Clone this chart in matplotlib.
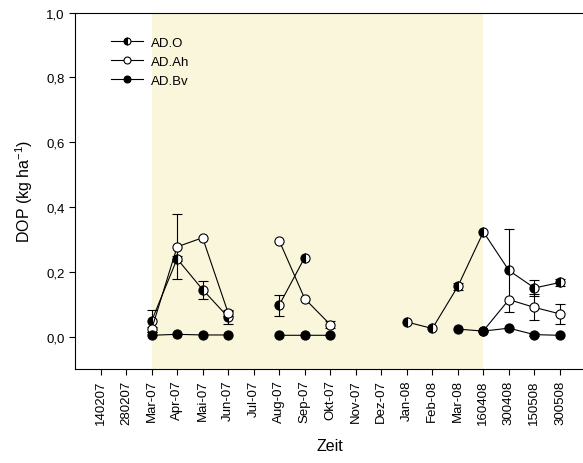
import numpy as np
import matplotlib
matplotlib.use("Agg")
import matplotlib.pyplot as plt
from matplotlib.lines import Line2D
from matplotlib.ticker import FuncFormatter

plt.rcParams['font.family'] = ['Liberation Sans', 'DejaVu Sans']
plt.rcParams['mathtext.default'] = 'regular'

nan = np.nan

# sampling dates
zeit = ["140207", "280207", "Mar-07", "Apr-07", "Mai-07", "Jun-07", "Jul-07",
        "Aug-07", "Sep-07", "Okt-07", "Nov-07", "Dez-07", "Jan-08", "Feb-08",
        "Mar-08", "160408", "300408", "150508", "300508"]

# DOP (kg ha^-1) per horizon
ad_o = [nan, nan, 0.048, 0.240, 0.145, 0.060, nan, 0.097, 0.244, nan, nan, nan,
        0.045, 0.025, 0.155, 0.323, 0.204, 0.150, 0.167]
ad_o_err = [nan, nan, 0.033, 0.008, 0.028, 0.020, nan, 0.032, nan, nan, nan, nan,
            nan, nan, 0.010, nan, 0.127, 0.025, 0.012]

ad_ah = [nan, nan, 0.022, 0.277, 0.305, 0.073, nan, 0.296, 0.117, 0.037, nan, nan,
         nan, nan, nan, 0.018, 0.114, 0.090, 0.070]
ad_ah_err = [nan, nan, 0.008, 0.100, nan, 0.010, nan, nan, nan, 0.010, nan, nan,
             nan, nan, nan, nan, nan, 0.040, 0.030]

ad_bv = [nan, nan, 0.004, 0.007, 0.005, 0.005, nan, 0.004, 0.004, 0.004, nan, nan,
         nan, nan, 0.023, 0.017, 0.026, 0.006, 0.004]
ad_bv_err = [nan, nan, nan, nan, nan, nan, nan, nan, nan, nan, nan, nan,
             nan, nan, nan, nan, nan, 0.005, nan]

# shaded period: Mar-07 .. 160408
shade_start, shade_end = "Mar-07", "160408"

fig = plt.figure(figsize=(5.83, 4.64), dpi=100)
W, H = 583, 464
ax = fig.add_axes([75 / W, (H - 370) / H, 510.5 / W, 356.5 / H])

x = np.arange(len(zeit))
ax.axvspan(zeit.index(shade_start), zeit.index(shade_end), color='#faf6dc', lw=0, zorder=0)

line_kw = dict(color='black', lw=0.8, mec='black', mew=0.8)
err_kw = dict(ecolor='black', elinewidth=0.8, capsize=3.5, capthick=0.8)
styles = {
    'AD.O': dict(marker='o', fillstyle='left', mfc='black', markerfacecoloralt='white'),
    'AD.Ah': dict(marker='o', mfc='white'),
    'AD.Bv': dict(marker='o', mfc='black'),
}

series = [('AD.O', ad_o, ad_o_err), ('AD.Ah', ad_ah, ad_ah_err), ('AD.Bv', ad_bv, ad_bv_err)]
handles = []
for z, (name, vals, errs) in enumerate(series):
    ax.errorbar(x, vals, yerr=errs, ms=6.6, zorder=3 + z, **line_kw, **err_kw, **styles[name])
    handles.append(Line2D([], [], ms=5.0, **line_kw, **styles[name]))

ax.set_xlim(-1, 19)
ax.set_ylim(-0.1, 1.0)
ax.set_xticks(x)
ax.set_xticklabels(zeit, rotation=90, fontsize=9.5)
ax.set_yticks(np.arange(0, 1.01, 0.2))
ax.yaxis.set_major_formatter(FuncFormatter(lambda v, p: f"{v:.1f}".replace('.', ',')))
ax.tick_params(axis='y', labelsize=9.5)
ax.tick_params(direction='out', length=4, width=0.8, color='black')
ax.spines['right'].set_visible(False)
for s in ('left', 'bottom', 'top'):
    ax.spines[s].set_linewidth(0.8)

ax.set_xlabel('Zeit', fontsize=11.5, labelpad=10)
ax.set_ylabel('DOP (kg ha$^{-1}$)', fontsize=11.5, labelpad=8)

ax.legend(handles, [s[0] for s in series], loc='upper left', bbox_to_anchor=(0.070, 0.932),
          frameon=False, borderaxespad=0, borderpad=0, handlelength=2.45,
          handletextpad=0.6, labelspacing=0.5, fontsize=9.5)

fig.savefig('out.png', dpi=100)
